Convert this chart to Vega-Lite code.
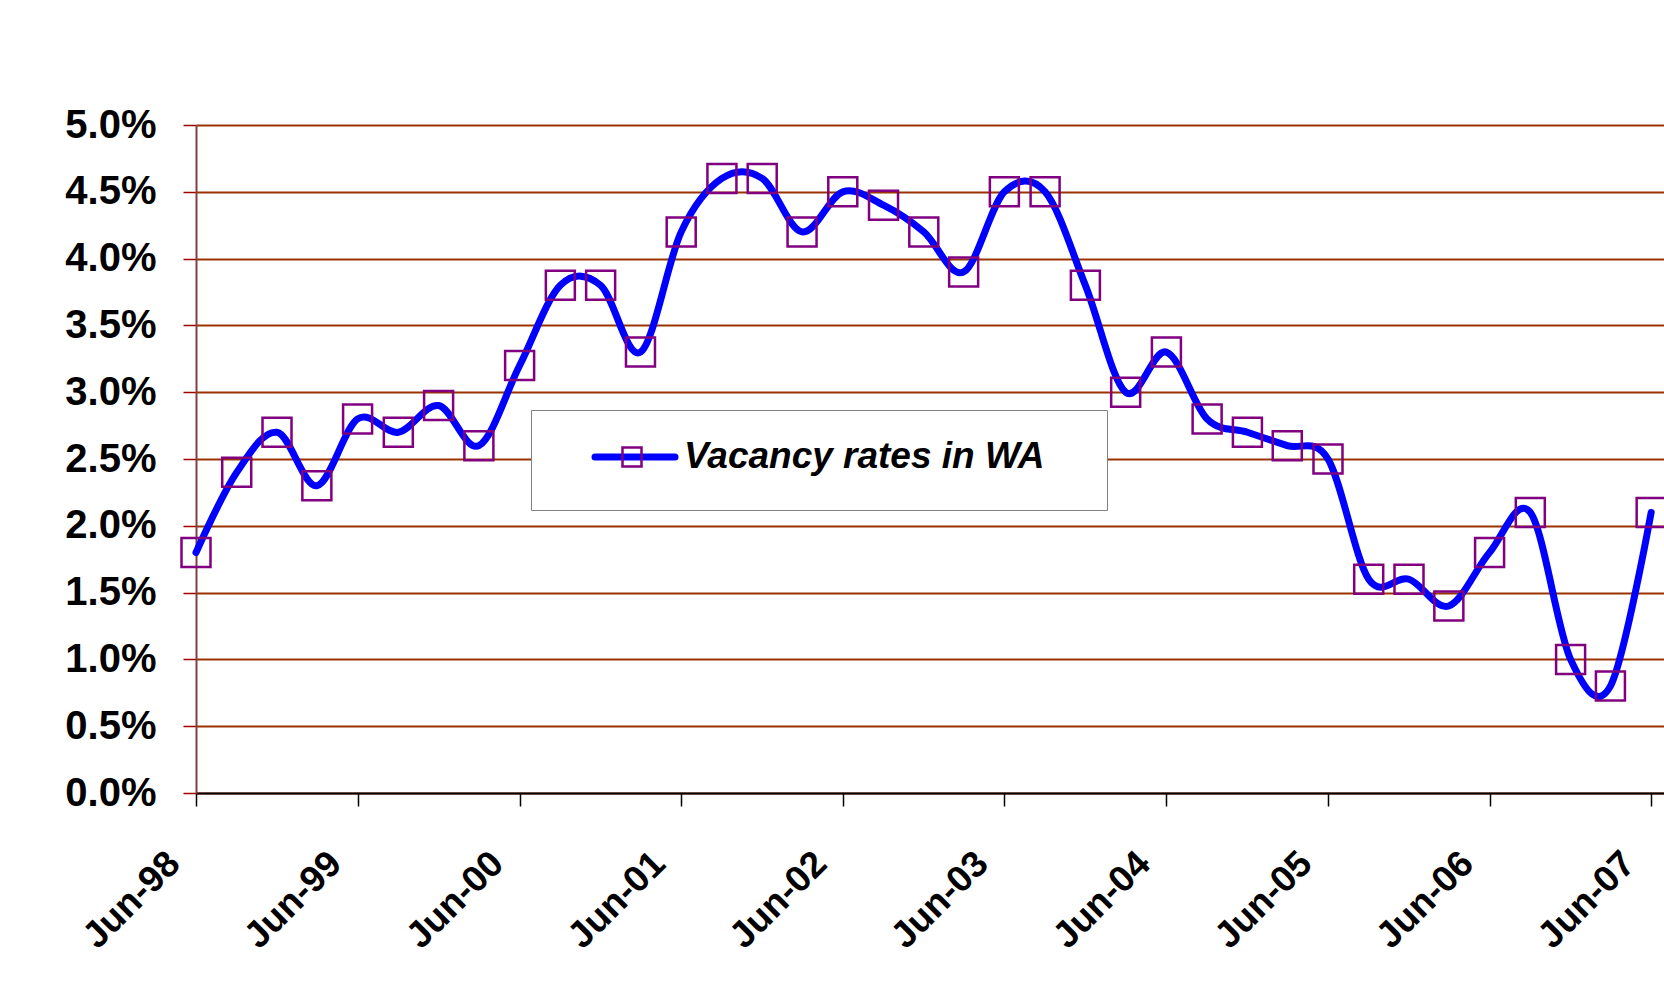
{
  "$schema": "https://vega.github.io/schema/vega-lite/v6.json",
  "width": 1468,
  "height": 668,
  "autosize": "none",
  "padding": {"left": 196, "top": 125, "right": 0, "bottom": 208},
  "background": "white",
  "config": {"view": {"stroke": null}, "font": "Liberation Sans"},
  "data": {
    "values": [
      {"date": "1998-06-01", "rate": 0.018},
      {"date": "1998-09-01", "rate": 0.024},
      {"date": "1998-12-01", "rate": 0.027},
      {"date": "1999-03-01", "rate": 0.023},
      {"date": "1999-06-01", "rate": 0.028},
      {"date": "1999-09-01", "rate": 0.027},
      {"date": "1999-12-01", "rate": 0.029},
      {"date": "2000-03-01", "rate": 0.026},
      {"date": "2000-06-01", "rate": 0.032},
      {"date": "2000-09-01", "rate": 0.038},
      {"date": "2000-12-01", "rate": 0.038},
      {"date": "2001-03-01", "rate": 0.033},
      {"date": "2001-06-01", "rate": 0.042},
      {"date": "2001-09-01", "rate": 0.046},
      {"date": "2001-12-01", "rate": 0.046},
      {"date": "2002-03-01", "rate": 0.042},
      {"date": "2002-06-01", "rate": 0.045},
      {"date": "2002-09-01", "rate": 0.044},
      {"date": "2002-12-01", "rate": 0.042},
      {"date": "2003-03-01", "rate": 0.039},
      {"date": "2003-06-01", "rate": 0.045},
      {"date": "2003-09-01", "rate": 0.045},
      {"date": "2003-12-01", "rate": 0.038},
      {"date": "2004-03-01", "rate": 0.030},
      {"date": "2004-06-01", "rate": 0.033},
      {"date": "2004-09-01", "rate": 0.028},
      {"date": "2004-12-01", "rate": 0.027},
      {"date": "2005-03-01", "rate": 0.026},
      {"date": "2005-06-01", "rate": 0.025},
      {"date": "2005-09-01", "rate": 0.016},
      {"date": "2005-12-01", "rate": 0.016},
      {"date": "2006-03-01", "rate": 0.014},
      {"date": "2006-06-01", "rate": 0.018},
      {"date": "2006-09-01", "rate": 0.021},
      {"date": "2006-12-01", "rate": 0.010},
      {"date": "2007-03-01", "rate": 0.008},
      {"date": "2007-06-01", "rate": 0.021}
    ]
  },
  "encoding": {
    "x": {
      "field": "date",
      "type": "temporal",
      "scale": {
        "type": "utc",
        "domain": [
          {"year": 1998, "month": 6, "date": 1, "utc": true},
          {"year": 2007, "month": 6, "date": 30, "utc": true}
        ]
      },
      "axis": {
        "title": null,
        "values": [
          {"year": 1998, "month": 6, "date": 1, "utc": true},
          {"year": 1999, "month": 6, "date": 1, "utc": true},
          {"year": 2000, "month": 6, "date": 1, "utc": true},
          {"year": 2001, "month": 6, "date": 1, "utc": true},
          {"year": 2002, "month": 6, "date": 1, "utc": true},
          {"year": 2003, "month": 6, "date": 1, "utc": true},
          {"year": 2004, "month": 6, "date": 1, "utc": true},
          {"year": 2005, "month": 6, "date": 1, "utc": true},
          {"year": 2006, "month": 6, "date": 1, "utc": true},
          {"year": 2007, "month": 6, "date": 1, "utc": true}
        ],
        "format": "%b-%y",
        "labelAngle": -45,
        "labelFont": "Liberation Sans",
        "labelFontSize": 37,
        "labelFontWeight": "bold",
        "labelColor": "black",
        "labelFlush": false,
        "labelOverlap": false,
        "labelPadding": 39,
        "labelOffset": -35,
        "tickSize": 13,
        "tickColor": "black",
        "tickWidth": 1.5,
        "domainColor": "black",
        "domainWidth": 2,
        "grid": false
      }
    },
    "y": {
      "field": "rate",
      "type": "quantitative",
      "scale": {"domain": [0, 0.05], "nice": false, "zero": true},
      "axis": {
        "title": null,
        "values": [0, 0.005, 0.01, 0.015, 0.02, 0.025, 0.03, 0.035, 0.04, 0.045, 0.05],
        "format": ".1%",
        "labelFont": "Liberation Sans",
        "labelFontSize": 40,
        "labelFontWeight": "bold",
        "labelColor": "black",
        "labelPadding": 27,
        "tickSize": 13,
        "tickColor": "#a00000",
        "tickWidth": 1.5,
        "domainColor": "#804040",
        "domainWidth": 2,
        "grid": true,
        "gridColor": "#993300",
        "gridWidth": 2.2
      }
    }
  },
  "layer": [
    {
      "mark": {
        "type": "line",
        "interpolate": "cardinal",
        "strokeWidth": 7,
        "strokeCap": "round",
        "strokeJoin": "round"
      },
      "encoding": {
        "color": {
          "datum": "Vacancy rates in WA",
          "scale": {"range": ["#0000ff"]},
          "legend": {
            "orient": "none",
            "legendX": 335,
            "legendY": 285,
            "title": null,
            "symbolType": "M-4,0H4M42.9,1",
            "symbolSize": 400,
            "symbolStrokeWidth": 7,
            "symbolStrokeColor": "#0000ff",
            "symbolFillColor": "transparent",
            "labelFont": "Liberation Sans",
            "labelFontSize": 37,
            "labelFontWeight": "bold",
            "labelFontStyle": "italic",
            "labelColor": "black",
            "labelLimit": 900,
            "labelOffset": 30.5,
            "symbolOffset": 57,
            "padding": 28.5,
            "fillColor": "white",
            "strokeColor": "#808080",
            "encode": {"symbols": {"update": {"strokeCap": {"value": "round"}}}}
          }
        }
      }
    },
    {
      "mark": {
        "type": "point",
        "shape": "square",
        "filled": false,
        "stroke": "#800080",
        "strokeWidth": 2.5,
        "size": 841,
        "opacity": 1
      },
      "encoding": {
        "shape": {
          "datum": "marker",
          "scale": {"range": ["square"]},
          "legend": {
            "orient": "none",
            "legendX": 425,
            "legendY": 321,
            "title": null,
            "symbolSize": 361,
            "symbolStrokeColor": "#800080",
            "symbolFillColor": "transparent",
            "symbolStrokeWidth": 2.5,
            "labelExpr": "''",
            "labelFontSize": 1,
            "padding": 0
          }
        }
      }
    }
  ]
}
